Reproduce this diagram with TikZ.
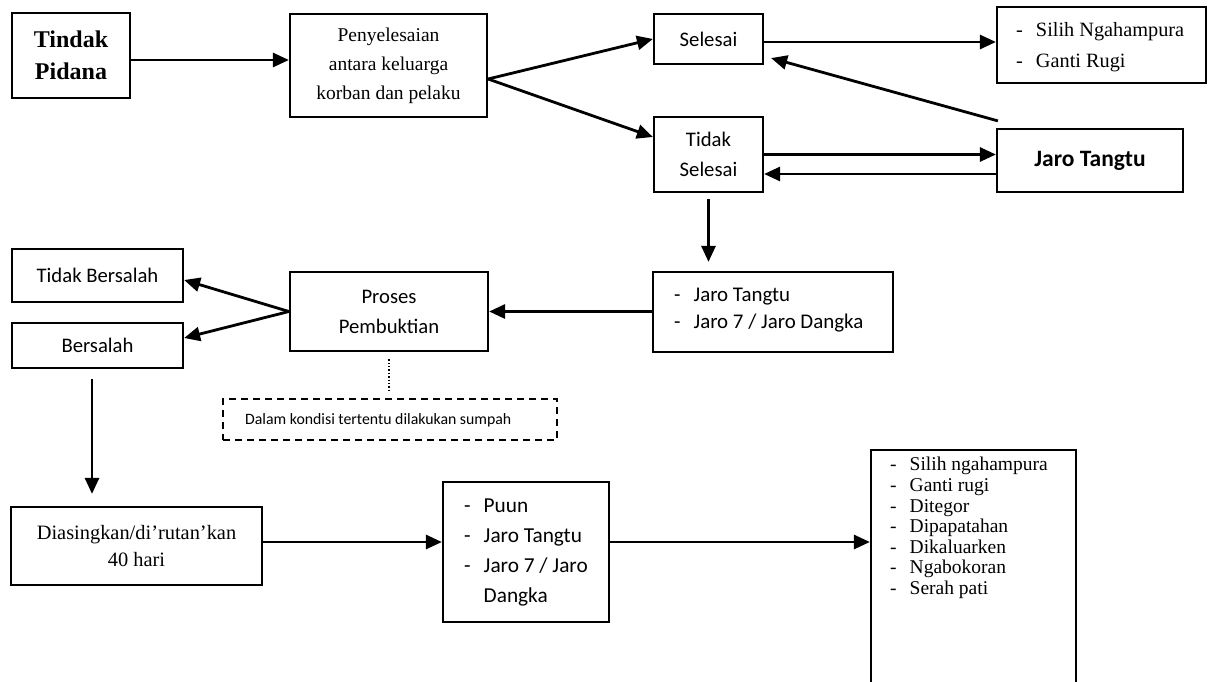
\documentclass[tikz,border=0pt]{standalone}
\usepackage{fontspec}
\setmainfont{Liberation Serif}
\newfontfamily\calfont{Carlito}
\usetikzlibrary{arrows.meta,calc}
\begin{document}
\begin{tikzpicture}[x=1pt,y=-1pt,
  box/.style={draw, line width=2.2pt, inner sep=0pt, align=center},
  dbox/.style={draw, line width=1.7pt, dash pattern=on 7pt off 5pt, inner sep=0pt},
  txt/.style={inner sep=0pt, align=left, anchor=west},
  arr/.style={line width=2.8pt, -{Triangle[length=16pt,width=14pt]}},
  ser/.style={font=\fontsize{19.5}{29}\selectfont},
  cal/.style={font=\calfont\fontsize{20.7}{30}\selectfont}]
\useasboundingbox (0,0) rectangle (1209,682);
\fill[white] (0,0) rectangle (1209,682);

% boxes
\node[box, minimum width=118pt, minimum height=85pt, font=\bfseries\fontsize{24}{32}\selectfont] (tp) at (71,55.5) {Tindak\\Pidana};
\node[box, ser, minimum width=197pt, minimum height=103pt] (peny) at (388.5,65.5) {Penyelesaian\\antara keluarga\\korban dan pelaku};
\node[box, cal, minimum width=109pt, minimum height=50pt] (sel) at (708.5,39) {Selesai};
\node[box, cal, minimum width=109pt, minimum height=75pt] (ts) at (708.5,154.5) {Tidak\\Selesai};
\node[box, minimum width=209pt, minimum height=76pt] (silih) at (1101.5,45) {};
\node[box, minimum width=186pt, minimum height=63pt, font=\calfont\bfseries\fontsize{23.5}{28}\selectfont] (jt) at (1090,160.5) {Jaro Tangtu};
\node[box, minimum width=240pt, minimum height=80pt] (jl) at (773,312) {};
\node[box, cal, minimum width=198pt, minimum height=79pt] (pr) at (389,311.5) {Proses\\Pembuktian};
\node[box, cal, minimum width=171pt, minimum height=53pt] (tb) at (97.5,275.5) {Tidak Bersalah};
\node[box, cal, minimum width=171pt, minimum height=45pt] (b) at (97.5,345.5) {Bersalah};
\node[dbox, minimum width=334pt, minimum height=41pt] (dash) at (390,419.5) {};
\node[txt, font=\calfont\fontsize{15.8}{19}\selectfont] (dashT) at (245,420) {Dalam kondisi tertentu dilakukan sumpah};
\node[box, minimum width=251pt, minimum height=78pt, font=\fontsize{20.4}{27}\selectfont] (dia) at (136.5,546) {Diasingkan/di’rutan’kan\\40 hari};
\node[box, minimum width=166pt, minimum height=140pt] (puun) at (526,552) {};
\node[box, minimum width=205pt, minimum height=236pt] (fin) at (973.5,568) {};

% list texts
\node[txt, font=\fontsize{20.3}{31}\selectfont] (silihL) at (1016,47.5) {-\hspace{13pt}Silih Ngahampura\\-\hspace{13pt}Ganti Rugi};
\node[txt, font=\calfont\fontsize{20.9}{27}\selectfont] (jlL) at (674,310) {-\hspace{13pt}Jaro Tangtu\\-\hspace{13pt}Jaro 7 / Jaro Dangka};
\node[txt, font=\calfont\fontsize{21.3}{30}\selectfont] (puunL) at (464,552) {-\hspace{13pt}Puun\\-\hspace{13pt}Jaro Tangtu\\-\hspace{13pt}Jaro 7 / Jaro\\\phantom{-}\hspace{13pt}Dangka};
\node[txt, font=\fontsize{19.5}{20.6}\selectfont] (finL) at (890,528) {-\hspace{13pt}Silih ngahampura\\-\hspace{13pt}Ganti rugi\\-\hspace{13pt}Ditegor\\-\hspace{13pt}Dipapatahan\\-\hspace{13pt}Dikaluarken\\-\hspace{13pt}Ngabokoran\\-\hspace{13pt}Serah pati};

% connectors
\draw[arr] ([yshift=-4.5pt]tp.east) -- ([yshift=-4.5pt]tp.east -| peny.west);
\draw[arr] ([yshift=-13.5pt]peny.east) -- (sel.west);
\draw[arr] ([yshift=-13.5pt]peny.east) -- ([yshift=17.5pt]ts.west);
\draw[arr] ([yshift=-3pt]sel.east) -- ([yshift=-3pt]sel.east -| silih.west);
\draw[arr] (ts.east) -- (ts.east -| jt.west);
\draw[arr] ([yshift=-19.5pt]ts.east -| jt.west) -- ([yshift=-19.5pt]ts.east);
\draw[arr] ([shift={(2pt,7pt)}]jt.north west) -- ([shift={(7pt,7pt)}]sel.south east);
\draw[arr] ([yshift=-6pt]ts.south) -- ($(ts.south |- jl.north)+(0pt,9pt)$);
\draw[arr] (jl.west |- pr.east) -- (pr.east);
\draw[arr] (pr.west) -- ([yshift=-4.5pt]tb.east);
\draw[arr] (pr.west) -- ([yshift=7.5pt]b.east);
\draw[arr] ([shift={(-5.5pt,-10pt)}]b.south) -- ($(b.south |- dia.north)+(-5.5pt,12pt)$);
\draw[line width=1.4pt, dotted] ([yshift=-7pt]pr.south) -- ($(pr.south |- dash.north)+(0pt,7pt)$);
\draw[arr] ([yshift=4pt]dia.east) -- ([yshift=4pt]dia.east -| puun.west);
\draw[arr] ([yshift=10pt]puun.east) -- ([yshift=10pt]puun.east -| fin.west);
\end{tikzpicture}
\end{document}
